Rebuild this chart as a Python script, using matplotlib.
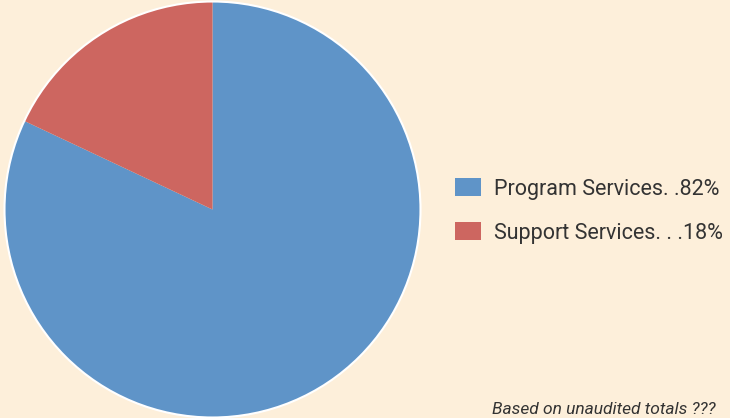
import matplotlib
matplotlib.use('Agg')
import matplotlib.pyplot as plt
from matplotlib.patches import Circle

labels = ['Program Services. .82%', 'Support Services. . .18%']
values = [82, 18]
colors = ['#5F94C8', '#CD6660']
bg = '#FDEFDA'

plt.rcParams['font.family'] = ['Roboto', 'DejaVu Sans']

fig = plt.figure(figsize=(7.3, 4.18), dpi=100, facecolor=bg)
ax = fig.add_axes([0, 0, 1, 1])
ax.set_facecolor(bg)

cx, cy, r = 212.5, 418 - 209.5, 208
wedges, _ = ax.pie(values, colors=colors, startangle=90, counterclock=False,
                   center=(cx, cy), radius=r, wedgeprops=dict(linewidth=0))
ax.add_patch(Circle((cx, cy), r, fill=False, edgecolor='white', linewidth=1.5))
ax.set_xlim(0, 730)
ax.set_ylim(0, 418)
ax.set_aspect('equal')
ax.axis('off')

leg = fig.legend(wedges, labels, loc='center left', bbox_to_anchor=(455 / 730, 0.495),
                 frameon=False, fontsize=15.5, handlelength=1.2, handleheight=0.9,
                 handletextpad=0.6, labelspacing=1.05, borderpad=0, borderaxespad=0)
for t in leg.get_texts():
    t.set_color('#333333')

fig.text(492 / 730, 4 / 418, 'Based on unaudited totals ???', fontsize=12.5,
         style='italic', color='#333333', ha='left', va='baseline')

fig.savefig('out.png', dpi=100, facecolor=bg)
